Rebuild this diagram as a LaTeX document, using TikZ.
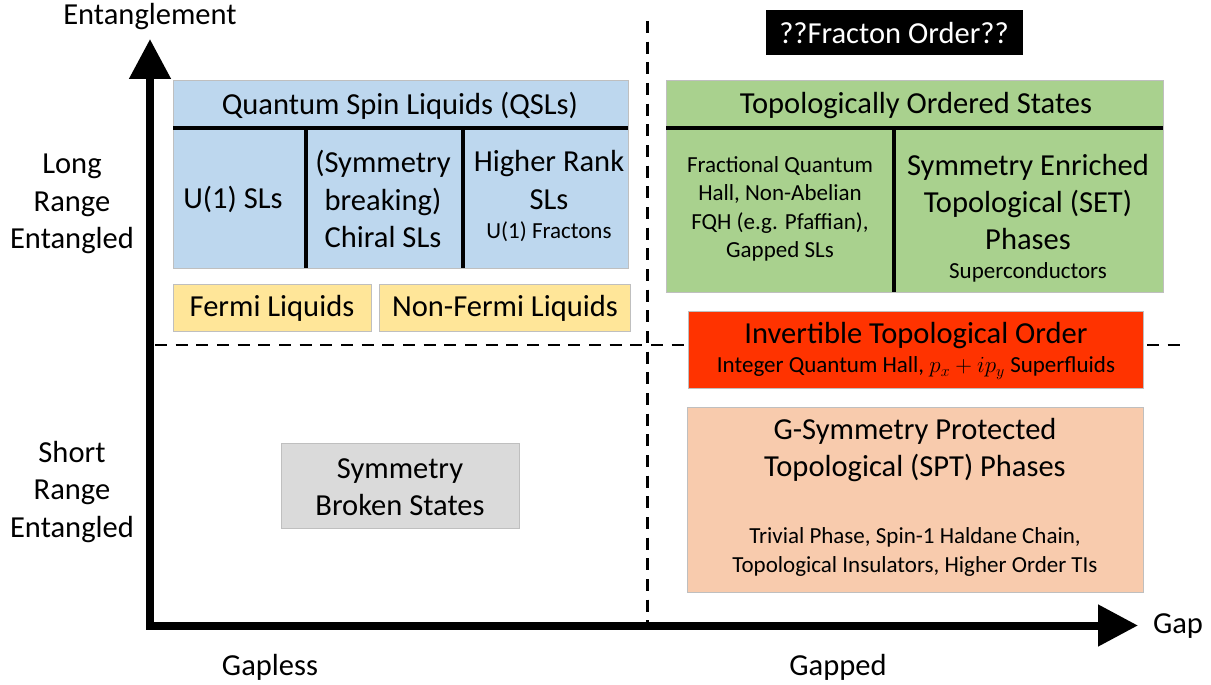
\documentclass[tikz,border=0pt]{standalone}
\usepackage{fontspec}
\setmainfont{Carlito}
\usetikzlibrary{arrows.meta}
\definecolor{qblue}{HTML}{BDD7EE}
\definecolor{tgreen}{HTML}{A9D18E}
\definecolor{fyellow}{HTML}{FFE699}
\definecolor{sgray}{HTML}{DADADA}
\definecolor{speach}{HTML}{F8CBAD}
\definecolor{ired}{HTML}{FF3300}
\definecolor{bord}{HTML}{BFBFBF}
\tikzset{
  bigtxt/.style={font=\fontsize{22.9pt}{28.1pt}\selectfont, align=center, inner sep=0pt},
  smalltxt/.style={font=\fontsize{17.25pt}{21.4pt}\selectfont, align=center, inner sep=0pt},
  panel/.style={draw=bord, line width=0.75pt},
  divider/.style={line width=2.4pt, draw=black},
  axisline/.style={line width=6pt, line join=miter,
    arrows={Triangle[width=30pt,length=30pt]-Triangle[width=30pt,length=30pt]}},
  guide/.style={line width=2pt, dash pattern=on 9pt off 6.5pt},
}
\begin{document}
\begin{tikzpicture}[x=0.75pt,y=-0.75pt]
\useasboundingbox (0,0) rectangle (1211,685);

% dashed guide lines
\coordinate (vtop) at (647.5,21);
\coordinate (vbot) at (647.5,625);
\coordinate (hl) at (155,345);
\coordinate (hr) at (1185,345);
\draw[guide] (vtop) -- (vbot);
\draw[guide] (hl) -- (hr);

% axes
\coordinate (ytip) at (150,39);
\coordinate (corner) at (150,625.5);
\coordinate (xtip) at (1138,625.5);
\draw[axisline] (ytip) -- (corner) -- (xtip);

% axis labels
\node[bigtxt] (ent) at (150,17) {Entanglement};
\node[bigtxt] (gap) at (1178,626) {Gap};
\node[bigtxt] (lre) at (72,204) {Long\\Range\\Entangled};
\node[bigtxt] (sre) at (72,492) {Short\\Range\\Entangled};
\node[bigtxt] (gapless) at (270,667) {Gapless};
\node[bigtxt] (gapped) at (838,667) {Gapped};

% Fracton order
\fill[black] (766,10) rectangle (1023,55);
\node[bigtxt, text=white] (fracton) at (894,33) {??Fracton Order??};

% QSL box
\filldraw[panel, fill=qblue] (173,81) rectangle (628,268);
\draw[divider] (173,128) -- (628,128);
\draw[divider] (306,128) -- (306,268);
\draw[divider] (463,128) -- (463,268);
\node[bigtxt] (qsl) at (400,106) {Quantum Spin Liquids (QSLs)};
\node[bigtxt] (u1) at (233,199) {U(1) SLs};
\node[bigtxt] (chiral) at (383,199) {(Symmetry\\breaking)\\Chiral SLs};
\node[bigtxt] (higher) at (549,180) {Higher Rank\\SLs};
\node[smalltxt] (u1frac) at (549,232) {U(1) Fractons};

% Fermi liquids
\filldraw[panel, fill=fyellow] (173,284) rectangle (371,331);
\filldraw[panel, fill=fyellow] (379,284) rectangle (630,331);
\node[bigtxt] (fermi) at (272,308) {Fermi Liquids};
\node[bigtxt] (nonfermi) at (505,308) {Non-Fermi Liquids};

% Topologically ordered states
\filldraw[panel, fill=tgreen] (666,81) rectangle (1163,292);
\draw[divider] (666,128) -- (1163,128);
\draw[divider] (894,128) -- (894,292);
\node[bigtxt] (topo) at (916,106) {Topologically Ordered States};
\node[smalltxt] (fqh) at (780,209) {Fractional Quantum\\Hall, Non-Abelian\\FQH (e.g. Pfaffian),\\Gapped SLs};
\node[bigtxt] (set) at (1028,202) {Symmetry Enriched\\Topological (SET)\\Phases};
\node[smalltxt] (supercond) at (1028,272) {Superconductors};

% Invertible topological order
\filldraw[panel, fill=ired] (688,311) rectangle (1143,388);
\node[bigtxt] (invert) at (916,336) {Invertible Topological Order};
\node[smalltxt] (iqh) at (916,368) {Integer Quantum Hall, $p_x+ip_y$ Superfluids};

% SPT
\filldraw[panel, fill=speach] (687,407) rectangle (1143,592);
\node[bigtxt] (spt) at (915,450) {G-Symmetry Protected\\Topological (SPT) Phases};
\node[smalltxt] (sptex) at (915,552) {Trivial Phase, Spin-1 Haldane Chain,\\Topological Insulators, Higher Order TIs};

% Symmetry broken
\filldraw[panel, fill=sgray] (281,443) rectangle (519,528);
\node[bigtxt] (symbroken) at (400,487) {Symmetry\\Broken States};
\end{tikzpicture}
\end{document}
